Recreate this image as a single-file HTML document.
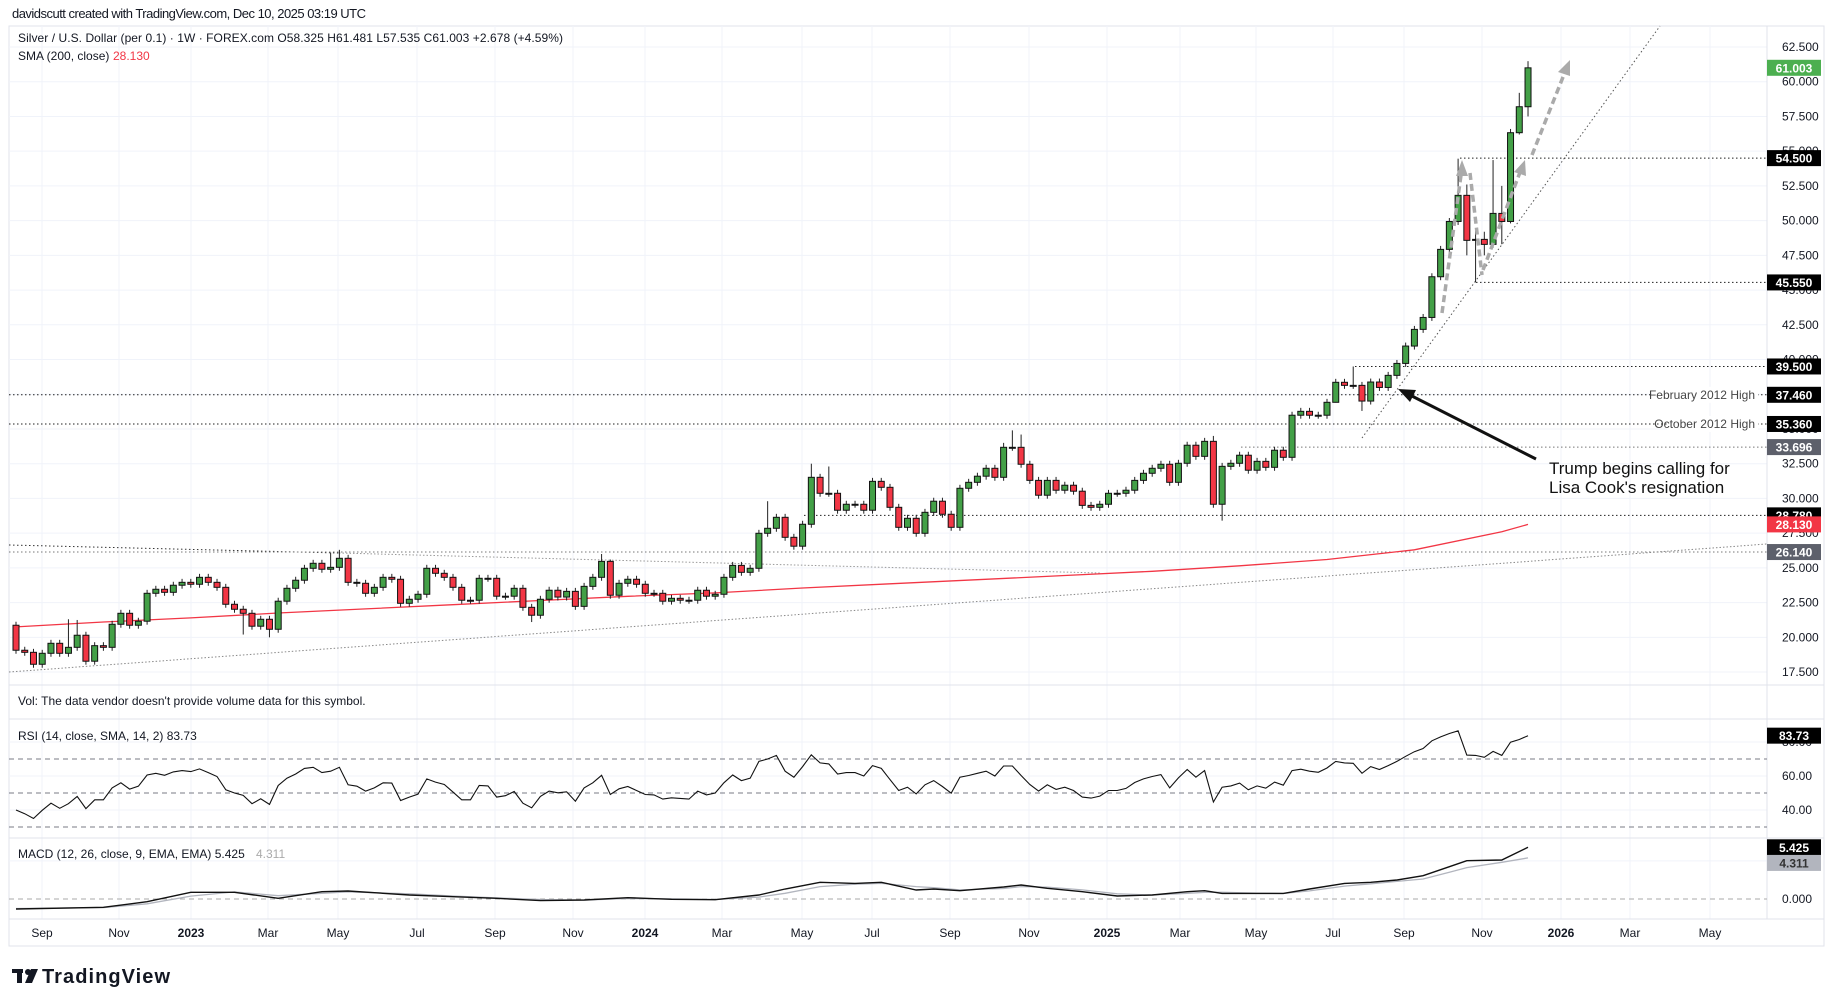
<!DOCTYPE html>
<html><head><meta charset="utf-8"><style>
html,body{margin:0;padding:0;background:#fff;width:1835px;height:1006px;overflow:hidden;font-family:"Liberation Sans",sans-serif;}
svg text{font-family:"Liberation Sans",sans-serif;}
</style></head><body>
<svg id="c" width="1835" height="1006" xmlns="http://www.w3.org/2000/svg"></svg>
<script>
// ---- data ----
const closes=[19.07,18.92,18.06,18.85,19.57,18.85,19.28,20.15,18.28,19.4,19.28,20.94,21.73,20.87,21.16,23.17,23.46,23.24,23.75,23.96,23.82,24.32,23.96,23.6,22.38,22.02,21.73,20.8,21.3,20.58,22.6,23.53,24.11,24.97,25.33,24.9,25.04,25.69,23.96,23.89,23.17,23.6,24.32,24.18,22.45,22.74,23.1,24.97,24.61,24.32,23.6,22.67,22.67,24.25,24.25,22.96,22.96,23.53,22.16,21.59,22.74,23.39,22.9,23.31,22.23,23.67,24.32,25.47,23.03,23.89,24.18,23.82,23.17,23.17,22.6,22.81,22.67,22.67,23.39,22.96,23.1,24.32,25.18,24.68,24.97,27.49,27.85,28.64,27.2,26.56,28.14,31.52,30.37,30.37,29.15,29.58,29.58,29.15,31.23,30.8,29.36,27.92,28.57,27.49,29.0,29.8,28.86,27.92,30.73,31.16,31.6,32.17,31.52,33.68,33.68,32.46,31.3,30.23,31.3,30.59,30.95,30.52,29.5,29.36,29.58,30.37,30.37,30.59,31.3,31.81,32.17,32.46,31.16,32.53,33.83,33.03,34.11,29.58,32.31,32.53,33.11,32.03,32.67,32.24,33.47,32.96,35.99,36.27,35.99,35.99,36.92,38.36,38.14,38.14,37.01,38.38,37.99,38.86,39.72,40.97,42.17,43.03,45.96,47.93,49.94,51.82,48.58,48.65,48.29,50.52,49.94,56.33,58.2,61.0];
const firstOpen=20.87;
// notable highs/lows keyed by 1-based week number
const highs={7:21.3,8:21.25,37:26.1,38:26.3,68:26.0,69:25.6,87:29.8,92:32.5,94:32.3,114:34.0,115:34.9,116:34.6,138:34.5,154:39.5,166:54.46,167:52.6,168:49.4,169:49.2,170:54.36,171:52.5,172:56.6,173:59.2,174:61.48};
const lows={27:20.2,30:20.0,60:21.1,139:28.4,155:36.3,152:36.9,167:47.5,168:45.55,169:47.5,171:48.3,172:49.8,173:56.2,174:57.5};
const smaWeeks=[0,10,20,30,40,50,60,70,80,90,100,110,120,130,140,150,160,170,173];
const smaVals=[20.75,21.1,21.4,21.75,22.05,22.35,22.65,22.95,23.2,23.55,23.85,24.15,24.45,24.75,25.15,25.6,26.3,27.6,28.13];
const rsi=[40,37.8,35,39.8,44,41,43.7,48,40.8,46,46,53,56,52.3,54,60.6,61.6,60.4,62.4,63.2,62.6,64.2,62,59.7,51.9,50,48.6,43.7,46.6,43.3,54.4,58.7,61.2,64.5,65.1,62,62.8,65.1,54.8,54,51.1,53,56,55.8,45.6,47.6,49.3,58.3,56.4,55,50.5,46,46,54.4,54.2,47.6,48.4,50.9,44,41.3,48,51.1,50.1,50.7,45.2,53,56,60.4,49.1,52.5,53.8,51.5,49.1,48.9,46.4,47.2,46.8,46.4,51.1,48.9,50,56,60.6,57.3,58.7,68.6,70,72.1,62.8,59.3,65.5,72.5,67.7,67.1,61.2,62,62,60,66.1,64.5,57.9,51.5,53.4,49.5,54.8,57.3,53.8,49.9,59.3,60.3,61.6,62.8,60,65.9,65.9,60.3,55,51.1,54.8,52.1,53.4,51.5,47.6,47,48.2,51.5,51.5,52.7,56.2,58.3,59.7,60.8,53,58.9,63.8,59.3,63.2,44.7,53.4,54.2,55.8,51.9,54.2,52.8,56.4,54.6,63.2,64,62.8,62.2,64.7,68.6,67.7,67.5,61.6,65.5,63.8,66.1,68.6,71.6,74.3,76.2,80.7,83,85,86.6,72.3,72.1,71,74.5,72.1,79.9,81.5,83.73];
const macdWeeks=[0,10,15,20,25,30,35,38,45,50,55,60,65,70,75,80,85,88,92,96,99,103,105,108,113,115,118,122,126,130,134,136,138,142,145,148,152,155,158,161,164,166,170,173];
const macdVals=[-1.05,-0.87,-0.28,0.7,0.7,0.07,0.77,0.84,0.42,0.24,0.07,-0.17,-0.1,0.14,-0.03,-0.07,0.42,1.05,1.75,1.64,1.75,0.94,1.05,0.87,1.26,1.47,1.12,0.77,0.31,0.42,0.77,0.87,0.59,0.59,0.59,1.05,1.64,1.75,1.99,2.45,3.39,4.02,4.09,5.425];
const signalVals=[-1.0,-0.9,-0.5,0.3,0.75,0.35,0.6,0.75,0.55,0.32,0.12,-0.05,-0.12,0.05,0.02,-0.05,0.2,0.6,1.3,1.55,1.65,1.3,1.2,0.95,1.1,1.3,1.25,0.95,0.55,0.42,0.6,0.7,0.7,0.62,0.58,0.85,1.35,1.6,1.85,2.1,2.8,3.3,3.85,4.311];
const priceTicks=[62.5,60,57.5,55,52.5,50,47.5,45,42.5,40,37.5,35,32.5,30,27.5,25,22.5,20,17.5];
const timeLabels=["Sep","Nov","2023","Mar","May","Jul","Sep","Nov","2024","Mar","May","Jul","Sep","Nov","2025","Mar","May","Jul","Sep","Nov","2026","Mar","May"];
const timeX=[42,119,191,268,338,417,495,573,645,722,802,872,950,1029,1107,1180,1256,1333,1404,1482,1561,1630,1710];
const levels=[{p:54.5,x0:1460},{p:45.55,x0:1476},{p:39.5,x0:1355},{p:37.46,x0:9},{p:35.36,x0:9},{p:33.696,x0:1241,g:1},{p:28.78,x0:804},{p:26.14,x0:9,g:1}];

// ---- scales ----
const PX=i=>16+8.74*i;
const PY=p=>47+(62.5-p)*13.89;
const RY=v=>776-(v-60)*1.7;
const MY=v=>899-v*9.53;
const PLOT_R=1767;
const S=document.getElementById('c');
const NS='http://www.w3.org/2000/svg';
function mk(t,a,parent){const e=document.createElementNS(NS,t);for(const k in a)e.setAttribute(k,a[k]);(parent||S).appendChild(e);return e;}
function txt(x,y,s,a){const e=mk('text',Object.assign({x:x,y:y,'font-size':12,fill:'#131722'},a||{}));e.textContent=s;return e;}

// header
let t=txt(12,18,'davidscutt created with TradingView.com, Dec 10, 2025 03:19 UTC',{'font-size':13,'textLength':354});


// frame
let fr=mk('rect',{x:9,y:26,width:1815,height:920,fill:'none',stroke:'#e0e3eb'});


// gridlines
priceTicks.forEach(p=>{mk('line',{x1:9,x2:PLOT_R,y1:PY(p),y2:PY(p),stroke:'#f0f3fa'});});
timeX.forEach(x=>{mk('line',{x1:x,x2:x,y1:26,y2:919,stroke:'#f0f3fa'});});
[80,60,40].forEach(v=>mk('line',{x1:9,x2:PLOT_R,y1:RY(v),y2:RY(v),stroke:'#f0f3fa'}));
mk('line',{x1:9,x2:PLOT_R,y1:MY(4),y2:MY(4),stroke:'#f0f3fa'});
// pane separators
[685,719,838,919].forEach(y=>mk('line',{x1:9,x2:1824,y1:y,y2:y,stroke:'#e0e3eb'}));
mk('line',{x1:PLOT_R,x2:PLOT_R,y1:26,y2:919,stroke:'#e0e3eb'});

// trendlines
let l=mk('line',{x1:9,y1:545,x2:339,y2:553,stroke:'#333','stroke-dasharray':'1.5 2.5'});


l=mk('line',{x1:339,y1:553,x2:1100,y2:573,stroke:'#999','stroke-dasharray':'1.5 2'});


l=mk('line',{x1:9,y1:672,x2:PLOT_R,y2:544,stroke:'#888','stroke-dasharray':'1.5 2'});


l=mk('line',{x1:1362,y1:438,x2:1660,y2:26,stroke:'#555','stroke-dasharray':'1.5 2.5'});


levels.forEach(L=>{
  const e=mk('line',{x1:L.x0,x2:PLOT_R,y1:PY(L.p),y2:PY(L.p),stroke:L.g?'#777':'#222','stroke-dasharray':'1.5 2.5'});
  
  
});
mk('rect',{x:1652,y:PY(37.46)-8,width:106,height:16,fill:'#fff'});
mk('rect',{x:1667,y:PY(35.36)-8,width:91,height:16,fill:'#fff'});
t=txt(1755,PY(37.46)+4,'February 2012 High',{'text-anchor':'end','font-size':12,fill:'#444'});


t=txt(1755,PY(35.36)+4,'October 2012 High',{'text-anchor':'end','font-size':12,fill:'#444'});



// SMA
let d=smaWeeks.map((w,k)=>(k?'L':'M')+PX(w).toFixed(1)+' '+PY(smaVals[k]).toFixed(1)).join(' ');
let sm=mk('path',{d:d,fill:'none',stroke:'#f23645','stroke-width':1.3});



// candles
const g=mk('g',{});


closes.forEach((c,i)=>{
  const o=i?closes[i-1]:firstOpen;
  const top=Math.max(o,c),bot=Math.min(o,c);
  const h=highs[i+1]!==undefined?highs[i+1]:top+0.25;
  const lo=lows[i+1]!==undefined?lows[i+1]:bot-0.25;
  const x=PX(i);
  mk('line',{x1:x,x2:x,y1:PY(h),y2:PY(lo),stroke:'#222'},g);
  const y1=PY(top),y2=PY(bot);
  const r=mk('rect',{x:x-3,y:y1,width:6,height:Math.max(1,y2-y1),fill:c>=o?'#43a047':'#f23645',stroke:'#111','stroke-width':1},g);
  
  
});

// dashed gray arrows
[[1442,313,1462,168],[1470,173,1482,275],[1483,270,1522,167],[1532,155,1567,67]].forEach(a=>{
  const e=mk('line',{x1:a[0],y1:a[1],x2:a[2],y2:a[3],stroke:'#aaa','stroke-width':3.5,'stroke-dasharray':'7 4'});
  
  
});
mk('polygon',{points:'1462,160 1456,176 1468,176',fill:'#aaa'});
mk('polygon',{points:'1525,160 1514,172 1526,176',fill:'#aaa'});
mk('polygon',{points:'1570,60 1558,72 1570,76',fill:'#aaa'});
// black annotation arrow
let ar=mk('line',{x1:1536,y1:459,x2:1404,y2:392,stroke:'#111','stroke-width':3});


mk('polygon',{points:'1398,389 1416,390 1410,402',fill:'#111'});
t=txt(1549,474,'Trump begins calling for',{'font-size':17,fill:'#111'});


t=txt(1549,493,"Lisa Cook's resignation",{'font-size':17,fill:'#111'});



// price axis
priceTicks.forEach(p=>{const e=txt(1782,PY(p)+4,p.toFixed(3),{'font-size':12});

});
function tag(y,s,bg,fg,name){
  const r=mk('rect',{x:1767,y:y-8,width:54,height:16,fill:bg});
  
  
  txt(1794,y+4.5,s,{'text-anchor':'middle','font-size':12,fill:fg,'font-weight':'bold'});
}
tag(PY(61.003),'61.003','#4caf50','#fff','last-price-tag');
tag(PY(54.5),'54.500','#000','#fff','level-tag');
tag(PY(45.55),'45.550','#000','#fff','level-tag');
tag(PY(39.5),'39.500','#000','#fff','level-tag');
tag(PY(37.46),'37.460','#000','#fff','level-tag');
tag(PY(35.36),'35.360','#000','#fff','level-tag');
tag(PY(33.696),'33.696','#5d606b','#fff','level-tag');
tag(PY(28.78),'28.780','#000','#fff','level-tag');
tag(PY(28.13),'28.130','#f23645','#fff','sma-tag');
tag(PY(26.14),'26.140','#5d606b','#fff','level-tag');

// legends
t=txt(18,42,'Silver / U.S. Dollar (per 0.1) · 1W · FOREX.com  O58.325  H61.481  L57.535  C61.003  +2.678 (+4.59%)',{'font-size':12,'textLength':545});


t=txt(18,60,'SMA (200, close)',{'font-size':12});


txt(113,60,'28.130',{'font-size':12,fill:'#f23645'});
t=txt(18,705,"Vol: The data vendor doesn't provide volume data for this symbol.",{'font-size':12});



// RSI
t=txt(18,740,'RSI (14, close, SMA, 14, 2)  83.73',{'font-size':12});


[70,50,30].forEach(v=>mk('line',{x1:9,x2:PLOT_R,y1:RY(v),y2:RY(v),stroke:'#787b86','stroke-dasharray':'5 4'}));
d=rsi.map((v,i)=>(i?'L':'M')+PX(i).toFixed(1)+' '+RY(v).toFixed(1)).join(' ');
let rl=mk('path',{d:d,fill:'none',stroke:'#111','stroke-width':1.1});


[[80,'80.00'],[60,'60.00'],[40,'40.00']].forEach(a=>txt(1782,RY(a[0])+4,a[1]));
tag(RY(83.73),'83.73','#000','#fff','rsi-tag');

// MACD
t=txt(18,858,'MACD (12, 26, close, 9, EMA, EMA)  5.425',{'font-size':12});


txt(256,858,'4.311',{'font-size':12,fill:'#aaa'});
mk('line',{x1:9,x2:PLOT_R,y1:MY(0),y2:MY(0),stroke:'#aaa','stroke-dasharray':'5 4'});
d=macdWeeks.map((w,k)=>(k?'L':'M')+PX(w).toFixed(1)+' '+MY(signalVals[k]).toFixed(1)).join(' ');
let sl=mk('path',{d:d,fill:'none',stroke:'#b2b5be','stroke-width':1.3});


d=macdWeeks.map((w,k)=>(k?'L':'M')+PX(w).toFixed(1)+' '+MY(macdVals[k]).toFixed(1)).join(' ');
let ml=mk('path',{d:d,fill:'none',stroke:'#111','stroke-width':1.4});


txt(1782,MY(0)+4,'0.000');
tag(MY(5.425),'5.425','#000','#fff','macd-tag');
tag(MY(4.311)+5,'4.311','#b2b5be','#333','signal-tag');

// time axis
timeLabels.forEach((s,k)=>{const y4=/^\d{4}$/.test(s);
const e=txt(timeX[k],937,s,{'text-anchor':'middle','font-size':12,'font-weight':y4?'bold':'normal'});

});

// logo
const lg=mk('g',{});


mk('rect',{x:12,y:969,width:11,height:4,fill:'#131722'},lg);
mk('rect',{x:17,y:969,width:5,height:14,fill:'#131722'},lg);
mk('circle',{cx:28,cy:972,r:3,fill:'#131722'},lg);
mk('polygon',{points:'31,969 38,969 32,983 25,983',fill:'#131722'},lg);
txt(42,983,'TradingView',{'font-size':20,'font-weight':'bold',fill:'#131722','textLength':128});
</script>
</body></html>
